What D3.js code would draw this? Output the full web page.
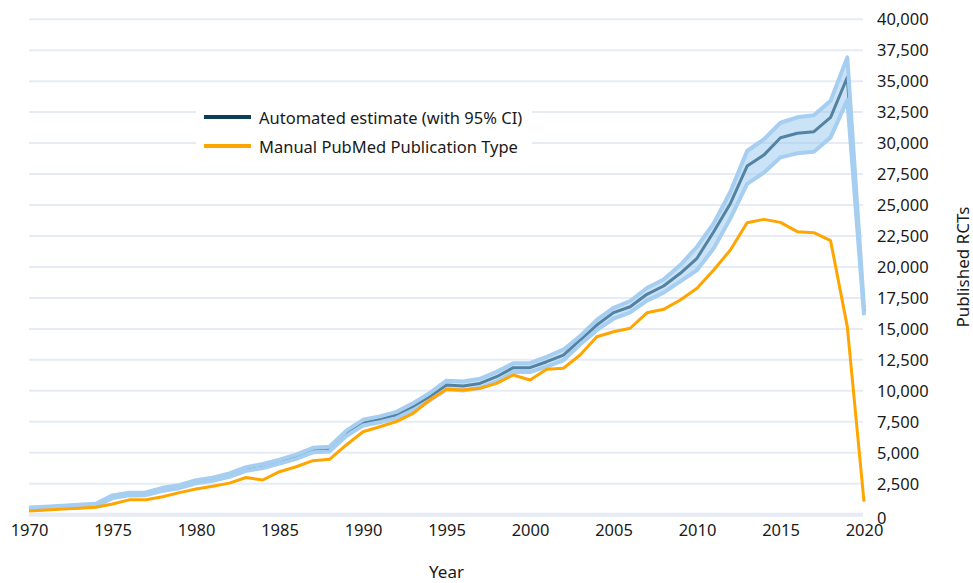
<!DOCTYPE html>
<html>
<head>
<meta charset="utf-8">
<script src="https://cdn.jsdelivr.net/npm/d3@7"></script>
<style>
  html, body { margin: 0; padding: 0; background: #fff; }
  svg text { font-family: "Noto Sans", "Open Sans", sans-serif; fill: #1a1a1a; }
</style>
</head>
<body>
<svg id="chart" width="973" height="583"></svg>
<script>
const years = d3.range(1970, 2021);
const manual = [300,380,450,520,600,870,1200,1200,1450,1780,
  2070,2300,2550,3000,2800,3470,3870,4360,4470,5630,
  6700,7100,7520,8180,9260,10120,10070,10200,10600,11280,
  10870,11740,11820,12890,14370,14770,15050,16300,16580,17330,
  18280,19750,21370,23570,23840,23600,22850,22770,22120,15180,
  1050];
const estimate = [480,550,620,700,780,1450,1670,1690,2050,2260,
  2660,2860,3200,3690,3930,4280,4680,5220,5300,6570,
  7430,7700,8050,8720,9530,10470,10390,10600,11140,11870,
  11870,12350,12890,14100,15310,16310,16790,17790,18460,19490,
  20700,22840,25130,28140,29030,30430,30790,30920,32080,35310,
  16400];
const ciUpper = [580,650,720,800,880,1560,1780,1800,2170,2380,
  2790,2990,3340,3840,4090,4440,4850,5400,5490,6790,
  7660,7940,8300,9000,9830,10820,10750,10970,11530,12230,
  12230,12750,13320,14420,15720,16700,17250,18300,18990,20150,
  21630,23520,26070,29360,30300,31640,32080,32240,33420,36920,
  16700];
const ciLower = [380,450,520,600,680,1340,1560,1580,1930,2140,
  2530,2730,3060,3540,3770,4120,4510,5040,5110,6350,
  7200,7460,7800,8440,9230,10120,10030,10230,10750,11510,
  11510,11950,12460,13740,14900,15820,16330,17280,17930,18830,
  19750,21500,23920,26700,27610,28850,29170,29300,30460,33470,
  16100];
const xTicks = [1970,1975,1980,1985,1990,1995,2000,2005,2010,2015,2020];
const yTicks = d3.range(0, 40001, 2500);
const legendLabels = ["Automated estimate (with 95% CI)", "Manual PubMed Publication Type"];

const svg = d3.select("#chart");
const x = d3.scaleLinear().domain([1970, 2020]).range([29, 864]);
const y = d3.scaleLinear().domain([0, 40000]).range([514.7, 19.2]);

// gridlines
svg.append("g").selectAll("line").data(yTicks).join("line")
  .attr("x1", 29).attr("x2", 863)
  .attr("y1", d => y(d)).attr("y2", d => y(d))
  .attr("stroke", "#e6ebf5")
  .attr("stroke-width", d => d === 0 ? 4 : 2);

// y axis labels (right)
const yAxis = d3.axisRight(y).tickValues(yTicks).tickSize(0).tickPadding(0)
  .tickFormat(d3.format(","));
const gy = svg.append("g").attr("transform", "translate(877,0)").call(yAxis);
gy.select(".domain").remove();
gy.selectAll("text").style("font-size", "16.5px").attr("dy", "0.35em")
  .attr("font-family", null);
gy.selectAll(".tick").filter(d => d === 0).select("text").attr("dy", "0.55em");

// x axis labels
const xAxis = d3.axisBottom(x).tickValues(xTicks).tickSize(0).tickPadding(0)
  .tickFormat(d3.format("d"));
const gx = svg.append("g").attr("transform", "translate(0,524)").call(xAxis);
gx.select(".domain").remove();
gx.selectAll("text").style("font-size", "16.5px").attr("dy", "0.71em")
  .attr("font-family", null);

// axis titles
svg.append("text").attr("x", 446.5).attr("y", 578).attr("text-anchor", "middle")
  .style("font-size", "17px").text("Year");
svg.append("text").attr("transform", "translate(969,267) rotate(-90)")
  .attr("text-anchor", "middle").style("font-size", "17px").text("Published RCTs");

const idx = d3.range(years.length);

// central estimate line (dark, below the CI band)
svg.append("path")
  .attr("d", d3.line().x(i => x(years[i])).y(i => y(estimate[i]))(idx))
  .attr("fill", "none").attr("stroke", "#0e3d57").attr("stroke-width", 3)
  .attr("stroke-linejoin", "round");

// CI band fill
svg.append("path")
  .attr("d", d3.area().x(i => x(years[i])).y0(i => y(ciLower[i])).y1(i => y(ciUpper[i]))(idx))
  .attr("fill", "#98c7ed").attr("fill-opacity", 0.5);

// CI edges
[ciUpper, ciLower].forEach(arr => {
  svg.append("path")
    .attr("d", d3.line().x(i => x(years[i])).y(i => y(arr[i]))(idx))
    .attr("fill", "none").attr("stroke", "#a6cef0").attr("stroke-width", 4)
    .attr("stroke-linejoin", "round");
});

// manual line
svg.append("path")
  .attr("d", d3.line().x(i => x(years[i])).y(i => y(manual[i]))(idx))
  .attr("fill", "none").attr("stroke", "#ffa500").attr("stroke-width", 3)
  .attr("stroke-linejoin", "round");

// legend
const lg = svg.append("g");
lg.append("rect").attr("x", 196).attr("y", 100).attr("width", 336).attr("height", 62).attr("fill", "#fff");
const legendColors = ["#0e3d57", "#ffa500"];
legendLabels.forEach((t, i) => {
  const yy = 117 + i * 29;
  lg.append("line").attr("x1", 204).attr("x2", 251).attr("y1", yy).attr("y2", yy)
    .attr("stroke", legendColors[i]).attr("stroke-width", 4);
  lg.append("text").attr("x", 259).attr("y", yy + 1).attr("dy", "0.35em")
    .style("font-size", "16.5px").text(t);
});
</script>
</body>
</html>
